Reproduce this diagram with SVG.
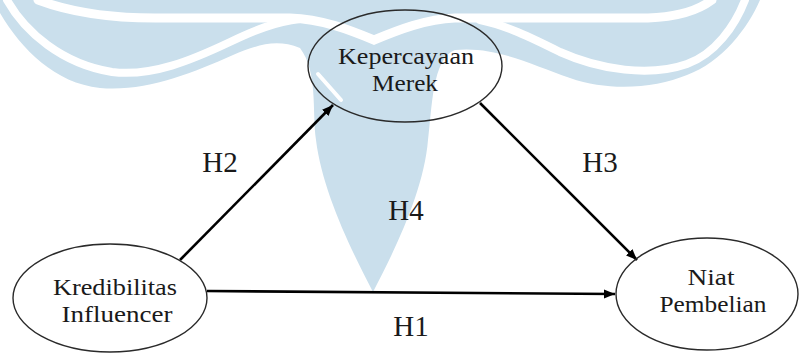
<svg xmlns="http://www.w3.org/2000/svg" width="799" height="353" viewBox="0 0 799 353">
<style>
.wm{fill:#cadfec;stroke:none}
.ws{fill:none;stroke:#ffffff;stroke-width:8;stroke-linecap:round}
.node{fill:none;stroke:#2a2a2a;stroke-width:1.4}
.t{font-family:"Liberation Serif","Times New Roman",serif;font-size:24px;fill:#1a1a1a;text-anchor:middle}
.lbl{font-family:"Liberation Serif","Times New Roman",serif;font-size:29px;fill:#1a1a1a;text-anchor:middle}
.edge{stroke:#000;stroke-width:2.6;fill:none}
</style>
<defs>
<marker id="ah" markerUnits="userSpaceOnUse" markerWidth="12" markerHeight="10" refX="11" refY="4.5" orient="auto">
<path d="M0,0 L11,4.5 L0,9 z" fill="#000"/>
</marker>
</defs>
<rect width="799" height="353" fill="#ffffff"/>
<g id="watermark">
<path class="wm" d="M0,0 L760,0 C748,28 722,62 687,75 C655,88 610,92 570,78 C530,64 495,46 455,50 C432,58 432,110 428,140 C424,190 395,250 373,292 C351,250 322,190 316,140 C312,110 318,72 300,48 C275,38 255,46 233,55 C190,74 145,92 100,88 C55,83 22,50 0,13 Z"/>
<path class="ws" style="stroke-width:9" d="M38,0 C70,12 108,18 155,18 L290,18 C322,19 350,30 374,40 C398,30 426,19 455,18 L648,18 C682,17 700,9 712,0"/>
<path class="ws" d="M7,0 C25,32 62,64 112,72 C152,77 192,60 230,42 C255,30 275,22 300,19"/>
<path class="ws" d="M745,0 C735,26 715,54 687,64 C650,77 600,70 560,52 C530,37 505,25 480,20"/>
<path class="ws" style="stroke-width:4" d="M318,74 L341,100"/>
</g>
<g id="connectors">
<line class="edge" x1="180" y1="260" x2="333" y2="105" marker-end="url(#ah)"/>
<line class="edge" x1="480" y1="103" x2="637" y2="260" marker-end="url(#ah)"/>
<line class="edge" x1="207" y1="291" x2="615" y2="294" marker-end="url(#ah)"/>
</g>
<g id="node-kepercayaan">
<ellipse class="node" cx="405" cy="66" rx="97" ry="56"/>
<text class="t" x="406" y="64" textLength="136" lengthAdjust="spacingAndGlyphs">Kepercayaan</text>
<text class="t" x="405" y="91" textLength="66" lengthAdjust="spacingAndGlyphs">Merek</text>
</g>
<g id="node-kredibilitas">
<ellipse class="node" cx="110" cy="298" rx="97" ry="54"/>
<text class="t" x="115" y="295" textLength="124" lengthAdjust="spacingAndGlyphs">Kredibilitas</text>
<text class="t" x="117" y="322" textLength="111" lengthAdjust="spacingAndGlyphs">Influencer</text>
</g>
<g id="node-niat">
<ellipse class="node" cx="707" cy="294" rx="91" ry="56"/>
<text class="t" x="711" y="285" textLength="47" lengthAdjust="spacingAndGlyphs">Niat</text>
<text class="t" x="713" y="312" textLength="107" lengthAdjust="spacingAndGlyphs">Pembelian</text>
</g>
<g id="labels">
<text class="lbl" x="220" y="172">H2</text>
<text class="lbl" x="600" y="172">H3</text>
<text class="lbl" x="406" y="220">H4</text>
<text class="lbl" x="411" y="336">H1</text>
</g>
</svg>
